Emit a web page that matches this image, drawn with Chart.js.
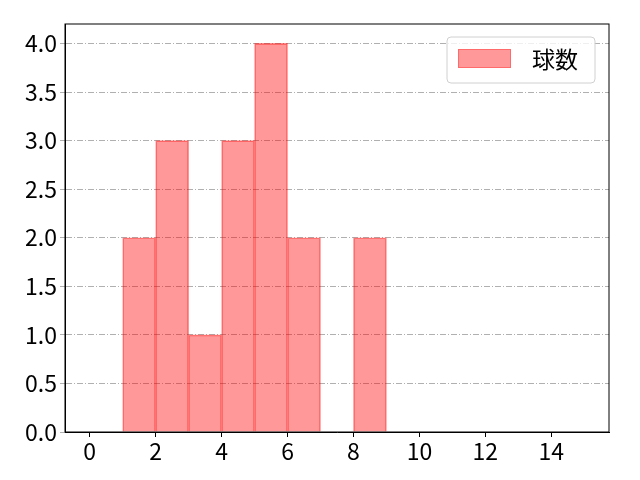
<!DOCTYPE html>
<html><head><meta charset="utf-8">
<script src="https://cdn.jsdelivr.net/npm/chart.js@4"></script>
<style>html,body{margin:0;padding:0;background:#fff}#w{width:640px;height:480px}</style>
</head><body><div id="w"><canvas id="c" width="640" height="480"></canvas></div>
<script>
const binCenters = [1.5, 2.5, 3.5, 4.5, 5.5, 6.5, 7.5, 8.5];
const counts = [2, 3, 1, 3, 4, 2, 0, 2];
const seriesLabel = "球数";
const xTicks = [0, 2, 4, 6, 8, 10, 12, 14];
const yTicks = [0, 0.5, 1.0, 1.5, 2.0, 2.5, 3.0, 3.5, 4.0];
const FONT = "'Noto Sans CJK JP', 'DejaVu Sans', sans-serif";

const framePlugin = {
  id: 'frame',
  afterDraw(chart) {
    const {ctx, chartArea: a} = chart;
    ctx.save();
    ctx.strokeStyle = '#000'; ctx.lineWidth = 1;
    ctx.strokeRect(a.left, a.top, a.right - a.left, a.bottom - a.top);
    // legend
    const lx = 447, ly = 37, lw = 148, lh = 46;
    ctx.fillStyle = 'rgba(255,255,255,0.8)';
    ctx.strokeStyle = '#d0d0d0';
    ctx.beginPath();
    if (ctx.roundRect) ctx.roundRect(lx, ly, lw, lh, 4); else ctx.rect(lx, ly, lw, lh);
    ctx.fill(); ctx.stroke();
    ctx.fillStyle = 'rgba(255,0,0,0.4)';
    ctx.fillRect(458, 49, 53, 19);
    ctx.strokeStyle = 'rgba(255,0,0,0.3)';
    ctx.strokeRect(458.5, 49.5, 52, 18);
    ctx.fillStyle = '#000';
    ctx.font = '23px ' + FONT;
    ctx.textBaseline = 'middle';
    ctx.fillText(chart.data.datasets[0].label, 532, 59);
    ctx.restore();
  }
};

new Chart(document.getElementById('c'), {
  type: 'bar',
  data: {
    datasets: [{
      label: seriesLabel,
      data: binCenters.map((x, i) => ({x: x, y: counts[i]})),
      backgroundColor: 'rgba(255,0,0,0.4)',
      borderColor: 'rgba(255,0,0,0.45)',
      borderWidth: 1,
      barPercentage: 1.0,
      categoryPercentage: 1.0
    }]
  },
  options: {
    responsive: false,
    animation: false,
    devicePixelRatio: 1,
    layout: {padding: {left: 0, top: 24, right: 31, bottom: 0}},
    plugins: {legend: {display: false}, tooltip: {enabled: false}},
    scales: {
      x: {
        type: 'linear', min: -0.75, max: 15.75, offset: false,
        afterBuildTicks: s => { s.ticks = xTicks.map(v => ({value: v})); },
        afterFit: s => { s.height = 48; },
        grid: {display: true, offset: false, drawOnChartArea: false, drawTicks: true, tickLength: 5, color: '#000'},
        border: {display: true, color: '#000'},
        ticks: {color: '#000', font: {family: FONT, size: 23}, padding: 0, maxRotation: 0}
      },
      y: {
        min: 0, max: 4.2,
        afterBuildTicks: s => { s.ticks = yTicks.map(v => ({value: v})); },
        afterFit: s => { s.width = 65; },
        grid: {display: true, drawOnChartArea: true, drawTicks: true, tickLength: 5, color: '#b0b0b0'},
        border: {display: true, color: '#000', dash: [6, 2, 1, 2]},
        ticks: {color: '#000', font: {family: FONT, size: 23}, padding: 3,
                callback: v => v.toFixed(1)}
      }
    }
  },
  plugins: [framePlugin]
});
</script></body></html>
